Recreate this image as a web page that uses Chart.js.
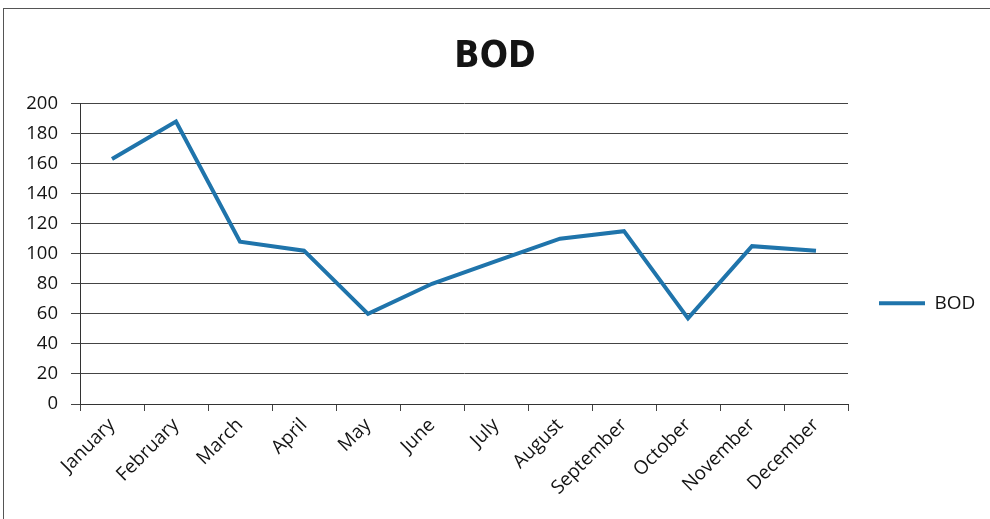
<!DOCTYPE html>
<html lang="en">
<head>
  <meta charset="UTF-8">
  <title>BOD</title>
  <script src="https://cdn.jsdelivr.net/npm/chart.js"></script>
  <style>
    html, body { margin: 0; padding: 0; background: #fff; overflow: hidden; }
    .frame { position: absolute; left: 3px; top: 8px; width: 1010px; height: 540px; border: 1px solid #555; box-sizing: border-box; }
    .wrap { position: absolute; left: 0; top: 0; width: 990px; height: 519px; }
  </style>
</head>
<body>
  <div class="frame"></div>
  <div class="wrap"><canvas id="bodChart" width="990" height="519"></canvas></div>

  <script>
    const months = ['January', 'February', 'March', 'April', 'May', 'June', 'July',
                    'August', 'September', 'October', 'November', 'December'];
    const bodValues = [163, 188, 108, 102, 60, 80, 95, 110, 115, 57, 105, 102];
    const yTicks = [0, 20, 40, 60, 80, 100, 120, 140, 160, 180, 200];

    const lineColor = '#1f74ab';
    const textColor = '#141414';
    const baseFont = "'Open Sans', 'Liberation Sans', sans-serif";

    // keep the legend column at a fixed width so the plot ends where it should
    const legendWidth = {
      id: 'legendWidth',
      beforeInit(chart) {
        const fit = chart.legend.fit;
        chart.legend.fit = function () {
          fit.call(this);
          this.width = 142;
        };
      }
    };

    new Chart(document.getElementById('bodChart'), {
      type: 'line',
      data: {
        labels: months,
        datasets: [{
          label: 'BOD',
          data: bodValues,
          borderColor: lineColor,
          backgroundColor: lineColor,
          borderWidth: 4,
          pointRadius: 0,
          pointHoverRadius: 0,
          tension: 0
        }]
      },
      options: {
        responsive: false,
        animation: false,
        layout: { padding: 0 },
        plugins: {
          title: {
            display: true,
            text: 'BOD',
            color: textColor,
            font: { family: "'DejaVu Sans Condensed', sans-serif", size: 37, weight: 'bold' },
            padding: { top: 35, bottom: 24 }
          },
          legend: {
            position: 'right',
            fullSize: false,
            align: 'start',
            // blank legend title pushes the entry down beside the lower half of the plot
            title: { display: true, text: ' ', padding: { top: 145, bottom: 0 } },
            labels: {
              usePointStyle: true,
              pointStyle: 'line',
              pointStyleWidth: 46,
              padding: 31,
              color: textColor,
              font: { family: baseFont, size: 19 }
            }
          },
          tooltip: { enabled: false }
        },
        scales: {
          x: {
            offset: true,
            afterFit(scale) { scale.height = 115; },
            grid: { offset: true, drawOnChartArea: false, drawTicks: true, tickLength: 7, color: '#444' },
            border: { display: true, color: '#333', width: 1 },
            ticks: {
              minRotation: 45,
              maxRotation: 45,
              autoSkip: false,
              padding: 3,
              color: textColor,
              font: { family: baseFont, size: 19 }
            }
          },
          y: {
            min: 0,
            max: 200,
            afterFit(scale) { scale.width = 80; },
            afterBuildTicks(scale) { scale.ticks = yTicks.map(v => ({ value: v })); },
            grid: { color: '#444', lineWidth: 1, tickLength: 9 },
            border: { display: true, color: '#333', width: 1 },
            ticks: {
              padding: 13,
              color: textColor,
              font: { family: baseFont, size: 18.5 }
            }
          }
        }
      },
      plugins: [legendWidth]
    });
  </script>
</body>
</html>
